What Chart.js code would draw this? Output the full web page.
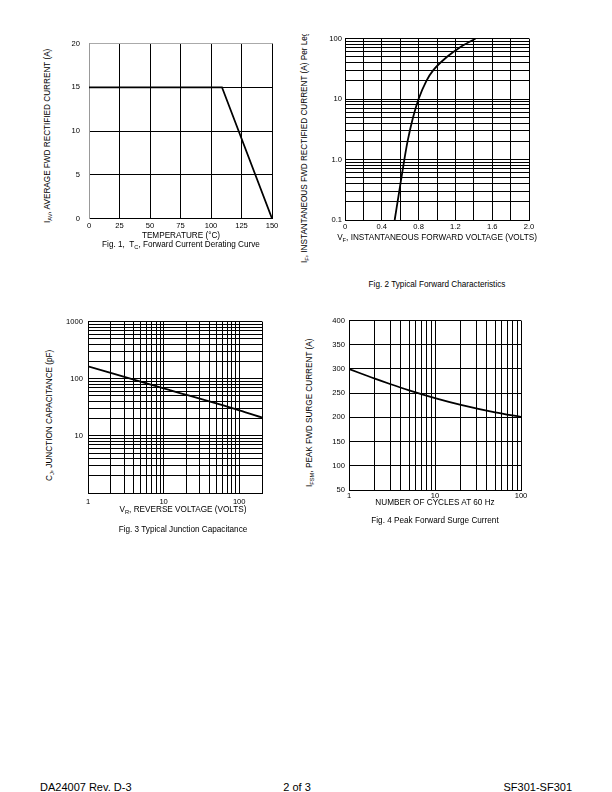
<!DOCTYPE html>
<html>
<head>
<meta charset="utf-8">
<script src="https://cdn.jsdelivr.net/npm/chart.js@4.4.0/dist/chart.umd.min.js"></script>
<style>
  html, body { margin: 0; padding: 0; background: #fff; }
  body { width: 612px; height: 792px; position: relative; overflow: hidden;
         font-family: 'Liberation Sans', Arial, sans-serif; color: #000; }
  canvas { position: absolute; }
  .t { position: absolute; white-space: nowrap; font-size: 8.2px; line-height: 10px; transform: translate(-50%, -50%); }
  .v { position: absolute; white-space: nowrap; font-size: 8.2px; line-height: 10px; transform: rotate(-90deg); transform-origin: 0 0; }
  .ft { position: absolute; white-space: nowrap; font-size: 11px; line-height: 12px; top: 781px; }
  sub { font-size: 70%; vertical-align: -0.3em; line-height: 0; }
  .clip { position: absolute; overflow: hidden; }
</style>
</head>
<body>
<canvas id="fig1" width="229" height="202" style="left:55px;top:30px"></canvas>
<canvas id="fig2" width="212" height="201" style="left:325px;top:31px"></canvas>
<canvas id="fig3" width="211" height="195" style="left:55px;top:312px"></canvas>
<canvas id="fig4" width="209" height="190" style="left:320px;top:312px"></canvas>

<div class="v" style="left:43px;top:223px">I<sub>AV</sub>, AVERAGE FWD RECTIFIED CURRENT (A)</div>
<div class="t" style="left:181px;top:236px">TEMPERATURE (°C)</div>
<div class="t" style="left:181px;top:245px">Fig. 1,&nbsp; T<sub>C</sub>, Forward Current Derating Curve</div>

<div class="clip" style="left:290px;top:34px;width:30px;height:240px">
  <div class="v" style="left:10px;top:229px">I<sub>F</sub>, INSTANTANEOUS FWD RECTIFIED CURRENT (A) Per Leg</div>
</div>
<div class="t" style="left:437px;top:238px">V<sub>F</sub>, INSTANTANEOUS FORWARD VOLTAGE (VOLTS)</div>
<div class="t" style="left:437px;top:285px">Fig. 2 Typical Forward Characteristics</div>

<div class="v" style="left:45px;top:481px">C<sub>J</sub>, JUNCTION CAPACITANCE (pF)</div>
<div class="t" style="left:183px;top:510px">V<sub>R</sub>, REVERSE VOLTAGE (VOLTS)</div>
<div class="t" style="left:183px;top:530px">Fig. 3 Typical Junction Capacitance</div>

<div class="v" style="left:305px;top:487px">I<sub>FSM</sub>, PEAK FWD SURGE CURRENT (A)</div>
<div class="t" style="left:435px;top:503px">NUMBER OF CYCLES AT 60 Hz</div>
<div class="t" style="left:435px;top:521px">Fig. 4 Peak Forward Surge Current</div>

<div class="ft" style="left:40px">DA24007 Rev. D-3</div>
<div class="ft" style="left:297px;transform:translateX(-50%)">2 of 3</div>
<div class="ft" style="right:40px">SF301-SF301</div>

<script>
// Fig. 1 derating curve
const fig1Temp = [0, 109, 150];
const fig1Current = [15, 15, 0];

// Fig. 2 forward characteristics (log y)
const fig2Volts = [0.54, 0.59, 0.645, 0.68, 0.74, 0.80, 0.885, 0.96, 1.11, 1.24, 1.42];
const fig2Amps = [0.1, 0.3, 1, 2, 5, 10, 20, 30, 50, 70, 100];
const fig2YGrid = [0.1, 0.2, 0.3, 0.4, 0.5, 0.6, 0.7, 0.8, 0.9, 1, 2, 3, 4, 5, 6, 7, 8, 9, 10, 20, 30, 40, 50, 60, 70, 80, 90, 100];
const fig2YLabelAt = [0.1, 1, 10, 100];
const fig2YLabels = ['0.1', '1.0', '10', '100'];

// Fig. 3 junction capacitance (log-log)
const fig3Volts = [1, 10, 100, 200];
const fig3Cap = [165, 68, 28, 21];
const fig3XGrid = [1, 2, 3, 4, 5, 6, 7, 8, 9, 10, 20, 30, 40, 50, 60, 70, 80, 90, 100, 200];
const fig3YGrid = [1, 2, 3, 4, 5, 6, 7, 8, 9, 10, 20, 30, 40, 50, 60, 70, 80, 90, 100, 200, 300, 400, 500, 600, 700, 800, 900, 1000];
const fig3XLabels = [1, 10, 100];
const fig3YLabels = [10, 100, 1000];

// Fig. 4 peak surge current (log x)
const fig4Cycles = [1, 2, 3, 5, 10, 20, 50, 100];
const fig4Amps = [300, 280, 269, 256, 240, 226, 210.5, 201];
const fig4XGrid = [1, 2, 3, 4, 5, 6, 7, 8, 9, 10, 20, 30, 40, 50, 60, 70, 80, 90, 100];
const fig4XLabels = [1, 10, 100];

Chart.defaults.font.family = "'Liberation Sans', Arial, sans-serif";
Chart.defaults.font.size = 7.6;
Chart.defaults.color = '#000';

const GRID = { color: '#000', lineWidth: 1, drawTicks: false };
const BORDER = { color: '#000', width: 1 };

const pts = (xs, ys) => xs.map((x, i) => ({ x, y: ys[i] }));
const fixW = w => s => { s.width = w; };
const fixH = h => s => { s.height = h; };
const setTicks = vals => s => { s.ticks = vals.map(v => ({ value: v })); };

function lineChart(id, data, scales, padding, tension = 0.4) {
    return new Chart(document.getElementById(id), {
        type: 'line',
        data: {
            datasets: [{
                data, borderColor: '#000', borderWidth: 1.8, pointRadius: 0,
                tension, cubicInterpolationMode: tension ? 'monotone' : 'default', fill: false
            }]
        },
        options: {
            responsive: false,
            animation: false,
            layout: { padding },
            plugins: { legend: { display: false }, tooltip: { enabled: false } },
            scales
        }
    });
}

lineChart('fig1', pts(fig1Temp, fig1Current), {
    x: {
        type: 'linear', min: 0, max: 150,
        grid: { ...GRID, color: c => c.tick && c.tick.value === 0 ? '#999' : '#000' },
        border: BORDER,
        ticks: { stepSize: 25, padding: 3, maxRotation: 0 },
        afterFit: fixH(12)
    },
    y: {
        type: 'linear', min: 0, max: 20,
        grid: { ...GRID, color: c => c.tick && c.tick.value === 20 ? '#aaa' : '#000' },
        border: { color: '#999', width: 1 },
        ticks: { stepSize: 5, padding: 9 },
        afterFit: fixW(34)
    }
}, { top: 7, right: 12, left: 0, bottom: 0 }, 0);

lineChart('fig2', pts(fig2Volts, fig2Amps), {
    x: {
        type: 'linear', min: 0, max: 2,
        grid: GRID, border: BORDER,
        ticks: { stepSize: 0.2, padding: 2, maxRotation: 0, autoSkip: false,
                 callback: v => [0, 0.4, 0.8, 1.2, 1.6, 2].some(t => Math.abs(t - v) < 1e-6) ? (v === 0 ? '0' : v.toFixed(1)) : '' },
        afterFit: fixH(12)
    },
    y: {
        type: 'logarithmic', min: 0.1, max: 100,
        grid: GRID, border: BORDER,
        afterBuildTicks: setTicks(fig2YGrid),
        ticks: { padding: 3, autoSkip: false,
                 callback: v => { const i = fig2YLabelAt.indexOf(v); return i < 0 ? '' : fig2YLabels[i]; } },
        afterFit: fixW(20)
    }
}, { top: 7, right: 8, left: 0, bottom: 0 });

lineChart('fig3', pts(fig3Volts, fig3Cap), {
    x: {
        type: 'logarithmic', min: 1, max: 200,
        grid: GRID, border: BORDER,
        afterBuildTicks: setTicks(fig3XGrid),
        ticks: { padding: 4, maxRotation: 0, autoSkip: false,
                 callback: v => fig3XLabels.includes(v) ? String(v) : '' },
        afterFit: fixH(14)
    },
    y: {
        type: 'logarithmic', min: 1, max: 1000,
        grid: GRID, border: BORDER,
        afterBuildTicks: setTicks(fig3YGrid),
        ticks: { padding: 5, autoSkip: false,
                 callback: v => fig3YLabels.includes(v) ? String(v) : '' },
        afterFit: fixW(33)
    }
}, { top: 7, right: 4, left: 0, bottom: 0 });

lineChart('fig4', pts(fig4Cycles, fig4Amps), {
    x: {
        type: 'logarithmic', min: 1, max: 100,
        grid: GRID, border: BORDER,
        afterBuildTicks: setTicks(fig4XGrid),
        ticks: { padding: 1, maxRotation: 0, autoSkip: false,
                 callback: v => fig4XLabels.includes(v) ? String(v) : '' },
        afterFit: fixH(12)
    },
    y: {
        type: 'linear', min: 50, max: 400,
        grid: GRID, border: BORDER,
        ticks: { stepSize: 50, padding: 4 },
        afterFit: fixW(29)
    }
}, { top: 7, right: 8, left: 0, bottom: 0 });
</script>
</body>
</html>
